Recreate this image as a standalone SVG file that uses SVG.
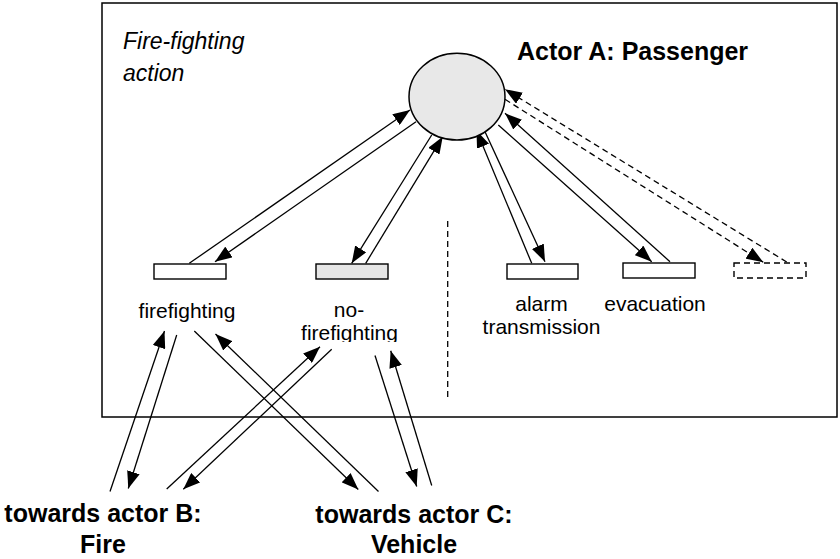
<svg xmlns="http://www.w3.org/2000/svg" width="840" height="559" viewBox="0 0 840 559">
<style>
.ln{stroke:#000;stroke-width:1.3;fill:none}
.dl{stroke:#000;stroke-width:1.3;fill:none;stroke-dasharray:6 4}
.bx{stroke:#000;stroke-width:1.4;fill:#fff}
.t{font-family:"Liberation Sans",Arial,sans-serif;font-size:21px;fill:#000;text-anchor:middle}
.b{font-family:"Liberation Sans",Arial,sans-serif;font-size:25px;font-weight:bold;fill:#000}
.i{font-family:"Liberation Sans",Arial,sans-serif;font-size:23px;font-style:italic;fill:#000}
</style>
<defs>
<marker id="ah" markerUnits="userSpaceOnUse" markerWidth="17" markerHeight="13" refX="17" refY="6.5" orient="auto">
<path d="M0,0 L17,6.5 L0,13 z" fill="#000"/>
</marker>
<clipPath id="clipNo"><rect x="280" y="290" width="140" height="52"/></clipPath>
</defs>
<rect width="840" height="559" fill="#fff"/>
<g id="frame">
<rect x="102" y="3" width="735" height="414" fill="none" stroke="#000" stroke-width="1.5"/>
<text class="i" x="123" y="48.5">Fire-fighting</text>
<text class="i" x="123" y="81">action</text>
<text class="b" x="517" y="60">Actor A: Passenger</text>
<line class="dl" x1="447.7" y1="221" x2="447.7" y2="400"/>
</g>
<g id="connectors">
<path class="ln" d="M189.3,263.3 L410,110" marker-end="url(#ah)"/>
<path class="ln" d="M416,121.7 L215,261.7" marker-end="url(#ah)"/>
<path class="ln" d="M431.7,135 L351.7,263.3" marker-end="url(#ah)"/>
<path class="ln" d="M365.7,263.3 L442.7,136.7" marker-end="url(#ah)"/>
<path class="ln" d="M531.7,263.3 L476.5,130.5" marker-end="url(#ah)"/>
<path class="ln" d="M485,131.7 L545,261.7" marker-end="url(#ah)"/>
<path class="ln" d="M498.3,125 L651.7,261.7" marker-end="url(#ah)"/>
<path class="ln" d="M670,261.7 L505,113.3" marker-end="url(#ah)"/>
<path class="dl" d="M786.7,262 L505,89.3" marker-end="url(#ah)"/>
<path class="dl" d="M505,99.3 L763.3,262.3" marker-end="url(#ah)"/>
<path class="ln" d="M110,491.5 L164.5,331" marker-end="url(#ah)"/>
<path class="ln" d="M176.7,335 L128.3,488.5" marker-end="url(#ah)"/>
<path class="ln" d="M194.3,331 L358.3,489.5" marker-end="url(#ah)"/>
<path class="ln" d="M378.5,491.5 L215.5,334" marker-end="url(#ah)"/>
<path class="ln" d="M166.7,489 L320,346.7" marker-end="url(#ah)"/>
<path class="ln" d="M331.7,349.3 L183.3,489.3" marker-end="url(#ah)"/>
<path class="ln" d="M375,355.5 L416.7,486.5" marker-end="url(#ah)"/>
<path class="ln" d="M431.7,485.5 L390.7,350.7" marker-end="url(#ah)"/>
</g>
<g id="passenger">
<ellipse cx="457" cy="96.7" rx="48" ry="43.4" fill="#e8e8e8" stroke="#000" stroke-width="1.5"/>
</g>
<g id="firefighting">
<rect class="bx" x="154" y="264" width="72" height="15"/>
<text class="t" x="187" y="318">firefighting</text>
</g>
<g id="no-firefighting">
<rect class="bx" x="316" y="264" width="72" height="15" style="fill:#e6e6e6"/>
<g clip-path="url(#clipNo)">
<text class="t" x="349" y="317">no-</text>
<text class="t" x="349.5" y="340">firefighting</text>
</g>
</g>
<g id="alarm">
<rect class="bx" x="507" y="264" width="71" height="15"/>
<text class="t" x="541.5" y="310.7">alarm</text>
<text class="t" x="541.5" y="334">transmission</text>
</g>
<g id="evacuation">
<rect class="bx" x="623" y="263" width="72" height="15"/>
<text class="t" x="655" y="310.7">evacuation</text>
</g>
<g id="unknown">
<rect x="734" y="263" width="72" height="15" fill="#fff" stroke="#000" stroke-width="1.4" stroke-dasharray="6 4"/>
</g>
<g id="actorB">
<text class="b" x="103" y="522" text-anchor="middle">towards actor B:</text>
<text class="b" x="103" y="552.7" text-anchor="middle">Fire</text>
</g>
<g id="actorC">
<text class="b" x="414" y="523" text-anchor="middle">towards actor C:</text>
<text class="b" x="414" y="552.7" text-anchor="middle">Vehicle</text>
</g>
</svg>
